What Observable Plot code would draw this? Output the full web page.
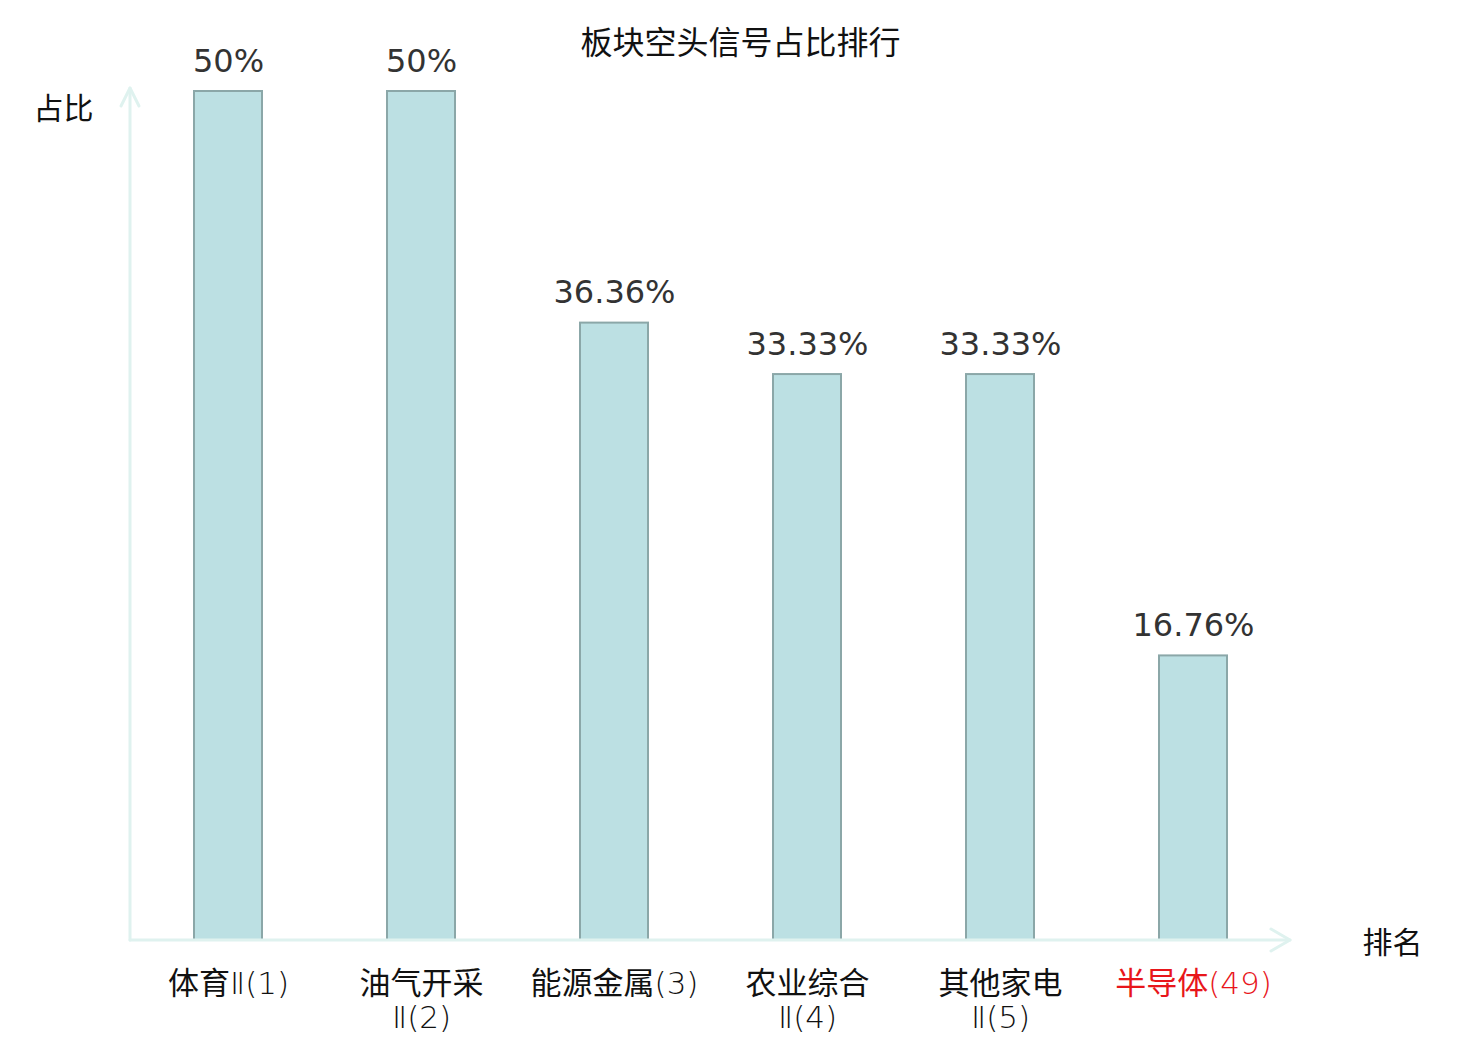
<!DOCTYPE html>
<html><head><meta charset="utf-8">
<script src="https://cdn.jsdelivr.net/npm/d3@7"></script>
<script src="https://cdn.jsdelivr.net/npm/@observablehq/plot@0.6"></script>
<style>
body{margin:0;background:#fff;}
#chart svg{display:block;}
</style>
</head><body>
<div id="chart"></div>
<script>
const categories = ["体育Ⅱ", "油气开采Ⅱ", "能源金属", "农业综合Ⅱ", "其他家电Ⅱ", "半导体"];
const ranks = [1, 2, 3, 4, 5, 49];
const values = [0.50, 0.50, 0.3636, 0.3333, 0.3333, 0.1676];
const valueLabels = ["50%", "50%", "36.36%", "33.33%", "33.33%", "16.76%"];
const tickLabels = ["体育Ⅱ(1)", "油气开采\nⅡ(2)", "能源金属(3)", "农业综合\nⅡ(4)", "其他家电\nⅡ(5)", "半导体(49)"];
const highlight = "半导体";

const data = categories.map((c, i) => ({
  cat: c, rank: ranks[i], value: values[i], vlabel: valueLabels[i], tick: tickLabels[i],
  color: c === highlight ? "#e8161b" : "#111"
}));

const axisColor = "#dff2ef";
const font = "'DejaVu Sans', 'Noto Sans CJK SC', sans-serif";
const cjk = "'Noto Sans CJK SC', 'DejaVu Sans', sans-serif";

const axesMark = (index, scales, values, dim) => {
  const g = d3.create("svg:g").attr("fill", "none").attr("stroke", axisColor)
    .attr("stroke-width", 3).attr("stroke-linecap", "round").attr("stroke-linejoin", "round");
  const x0 = dim.marginLeft, x1 = dim.width - dim.marginRight;
  const yb = dim.height - dim.marginBottom, yt = dim.marginTop - 3;
  g.append("line").attr("x1", x0).attr("x2", x1).attr("y1", yb).attr("y2", yb);
  g.append("polyline").attr("points", `${x1-19},${yb-11} ${x1},${yb} ${x1-19},${yb+11}`);
  g.append("line").attr("x1", x0).attr("x2", x0).attr("y1", yb).attr("y2", yt);
  g.append("polyline").attr("points", `${x0-9},${yt+18} ${x0},${yt} ${x0+9},${yt+18}`);
  return g.node();
};

const chart = Plot.plot({
  width: 1480,
  height: 1040,
  marginLeft: 130,
  marginRight: 190,
  marginTop: 91,
  marginBottom: 100,
  style: {fontFamily: font, background: "#fff", overflow: "visible"},
  x: {domain: categories, paddingInner: 0.65, paddingOuter: 0.325, axis: null},
  y: {domain: [0, 0.5], axis: null},
  color: {type: "identity"},
  marks: [
    Plot.barY(data, {x: "cat", y: "value", fill: "#bce0e3", stroke: "#8ba7a8", strokeWidth: 2}),
    axesMark,
    Plot.text(data, {x: "cat", y: "value", text: "vlabel", dy: -30, fontSize: 32, fill: "#333", fontFamily: font}),
    Plot.text(data, {x: "cat", text: "tick", frameAnchor: "bottom", lineAnchor: "top", dy: 30, fontSize: 31,
      lineHeight: 1.08, fill: "color", fontFamily: cjk}),
    Plot.text(["板块空头信号占比排行"], {frameAnchor: "top", dx: 30, dy: -60, fontSize: 32, fill: "#111", fontFamily: cjk}),
    Plot.text(["占比"], {frameAnchor: "top-left", dx: -97, dy: 6, fontSize: 30, fill: "#111", fontFamily: cjk}),
    Plot.text(["排名"], {frameAnchor: "bottom-right", dx: 132, dy: 12, fontSize: 30, fill: "#111", fontFamily: cjk})
  ]
});

// render the latin part of the tick labels in a thin face, as in the reference
const isCJK = /[\u4e00-\u9fff]/;
chart.querySelectorAll("text, tspan").forEach(el => {
  const nodes = Array.from(el.childNodes).filter(n => n.nodeType === 3 && n.textContent.includes("("));
  nodes.forEach(n => {
    const parts = n.textContent.match(/[\u4e00-\u9fff]+|[^\u4e00-\u9fff]+/g) || [];
    const frag = document.createDocumentFragment();
    parts.forEach(p => {
      const t = document.createElementNS("http://www.w3.org/2000/svg", "tspan");
      t.textContent = p;
      if (!isCJK.test(p)) {
        t.setAttribute("font-family", "'DejaVu Sans'");
        t.setAttribute("font-weight", "200");
      }
      frag.appendChild(t);
    });
    el.replaceChild(frag, n);
  });
});

document.getElementById("chart").appendChild(chart);
</script>
</body></html>
